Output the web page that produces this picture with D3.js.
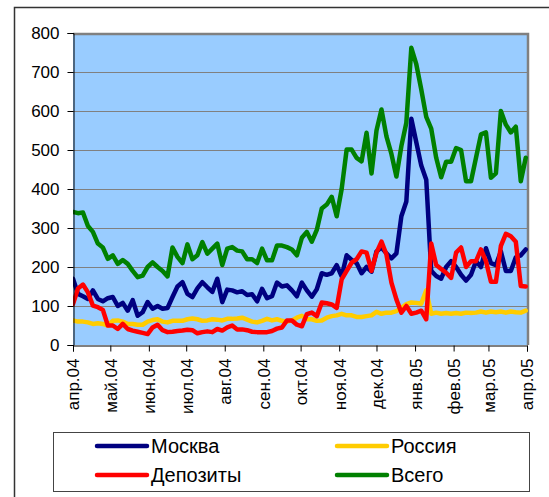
<!DOCTYPE html>
<html>
<head>
<meta charset="utf-8">
<script src="https://cdn.jsdelivr.net/npm/d3@7"></script>
<style>
html,body{margin:0;padding:0;background:#fff;}
svg{display:block;font-family:"Liberation Sans",Arial,sans-serif;}
</style>
</head>
<body>
<svg id="chart" width="549" height="497"></svg>
<script>
// ---- data ----
const startDate = new Date(2004, 3, 1);
const endDate = new Date(2005, 3, 1);
const stepDays = 4;
const monthLabels = ["апр.04","май.04","июн.04","июл.04","авг.04","сен.04","окт.04","ноя.04","дек.04","янв.05","фев.05","мар.05","апр.05"];
const yTicks = [0,100,200,300,400,500,600,700,800];
const seriesNames = ["Москва","Россия","Депозиты","Всего"];
const seriesColors = ["#000080","#FFCC00","#FF0000","#008000"];

const moskva = [170,131,125,118,140,118,112,120,123,100,108,88,115,75,84,110,93,100,93,95,
  123,150,161,131,123,145,161,148,136,170,110,142,140,135,138,128,130,112,144,120,
  125,160,150,153,140,125,160,140,124,143,184,180,184,205,176,230,218,210,184,200,
  188,240,250,235,222,235,330,368,580,520,460,424,190,177,170,200,215,200,180,165,
  180,215,200,248,210,205,240,190,190,225,230,245];
const rossiya = [63,60,60,58,54,56,54,50,62,63,60,54,54,52,52,60,64,66,60,58,
  62,62,62,66,68,66,62,63,66,65,63,67,67,68,70,65,60,58,62,67,
  63,66,62,60,63,70,75,66,66,62,63,70,74,76,80,76,76,72,72,74,
  76,85,80,83,83,87,95,105,109,108,106,140,80,83,80,82,80,82,80,83,
  82,83,86,83,86,84,86,83,86,84,83,88];
const depozity = [105,145,155,135,101,97,90,50,50,41,54,41,37,34,31,28,45,52,38,33,
  34,36,37,39,38,30,33,35,33,41,37,45,50,40,40,38,34,33,33,33,
  36,42,45,63,63,52,48,79,83,74,109,107,104,95,168,190,211,220,240,237,
  190,237,265,232,160,117,83,100,80,83,88,66,260,205,195,185,172,237,250,200,
  215,215,245,215,162,162,254,285,279,265,151,150];
const vsego = [341,338,340,305,290,260,250,221,230,208,218,208,190,174,178,200,212,200,190,176,
  250,226,210,258,220,230,264,234,247,260,205,247,251,242,240,220,220,210,247,217,
  217,255,255,251,245,230,275,290,265,295,350,360,380,330,400,501,501,480,471,544,
  440,550,604,535,490,432,510,570,762,720,655,585,555,480,430,470,470,505,500,420,
  420,480,540,545,429,440,600,565,545,560,420,480];

const seriesValues = [moskva, rossiya, depozity, vsego];
const dates = moskva.map((_, i) => d3.timeDay.offset(startDate, i * stepDays));

// ---- layout ----
const svg = d3.select("#chart");
const plot = {left: 73, right: 527, top: 33, bottom: 345};
const x = d3.scaleTime().domain([startDate, endDate]).range([plot.left, plot.right]);
const y = d3.scaleLinear().domain([0, 800]).range([plot.bottom, plot.top]);

// outer chart frame (left/top visible)
svg.append("rect").attr("x", 14.5).attr("y", 7.5).attr("width", 700).attr("height", 700)
  .attr("fill", "none").attr("stroke", "#333").attr("stroke-width", 1.5);

// plot background
svg.append("rect").attr("x", plot.left).attr("y", plot.top)
  .attr("width", plot.right - plot.left).attr("height", plot.bottom - plot.top)
  .attr("fill", "#99CCFF");

// gridlines
svg.append("g").selectAll("line").data(yTicks.filter(d => d > 0 && d < 800)).join("line")
  .attr("x1", plot.left).attr("x2", plot.right)
  .attr("y1", d => Math.round(y(d)) + 0.5).attr("y2", d => Math.round(y(d)) + 0.5)
  .attr("stroke", "#808080").attr("stroke-width", 1);

// plot border (grey, top/right thick)
svg.append("path")
  .attr("d", `M${plot.left},${plot.top + 1}H${plot.right + 1}V${plot.bottom}`)
  .attr("fill", "none").attr("stroke", "#808080").attr("stroke-width", 2.5);

// series lines
const line = d3.line().x((d, i) => x(dates[i])).y(d => y(d));
const clip = svg.append("clipPath").attr("id", "clip").append("rect")
  .attr("x", plot.left).attr("y", plot.top - 5).attr("width", plot.right - plot.left + 2).attr("height", plot.bottom - plot.top + 5);
const lines = svg.append("g").attr("clip-path", "url(#clip)");
seriesValues.forEach((vals, si) => {
  lines.append("path").datum(vals).attr("d", line)
    .attr("fill", "none").attr("stroke", seriesColors[si])
    .attr("stroke-width", 4.5).attr("stroke-linejoin", "round").attr("stroke-linecap", "round");
});

// y axis
const yAxis = d3.axisLeft(y).tickValues(yTicks).tickSize(6).tickPadding(8);
const gy = svg.append("g").attr("transform", `translate(${plot.left + 0.5},0)`).call(yAxis);
gy.select(".domain").attr("stroke", "#000");
gy.selectAll(".tick line").attr("stroke", "#000");
gy.selectAll("text").attr("font-size", 17).attr("fill", "#000")
  .attr("font-family", "\"Liberation Sans\",Arial,sans-serif");

// x axis
const monthTicks = d3.timeMonth.range(startDate, d3.timeDay.offset(endDate, 1));
const xAxis = d3.axisBottom(x).tickValues(monthTicks).tickSize(6)
  .tickFormat((d, i) => monthLabels[i]);
const gx = svg.append("g").attr("transform", `translate(0,${plot.bottom + 0.5})`).call(xAxis);
gx.select(".domain").attr("stroke", "#000");
gx.selectAll(".tick line").attr("stroke", "#000");
gx.selectAll("text").attr("font-size", 17).attr("fill", "#000")
  .attr("font-family", "\"Liberation Sans\",Arial,sans-serif")
  .attr("transform", "rotate(-90)")
  .attr("text-anchor", "end")
  .attr("x", -13).attr("y", 0).attr("dy", "0.35em");

// legend
const legend = svg.append("g");
legend.append("rect").attr("x", 53.5).attr("y", 432.5).attr("width", 476).attr("height", 59)
  .attr("fill", "#fff").attr("stroke", "#444").attr("stroke-width", 1);
const legendPos = [[97, 446], [337, 446], [97, 475], [337, 475]];
seriesNames.forEach((name, i) => {
  const [lx, ly] = legendPos[i];
  legend.append("line").attr("x1", lx).attr("x2", lx + 50).attr("y1", ly).attr("y2", ly)
    .attr("stroke", seriesColors[i]).attr("stroke-width", 4.5).attr("stroke-linecap", "round");
  legend.append("text").attr("x", lx + 54).attr("y", ly).attr("dy", "0.35em")
    .attr("font-size", 20).attr("fill", "#000").text(name);
});
</script>
</body>
</html>
